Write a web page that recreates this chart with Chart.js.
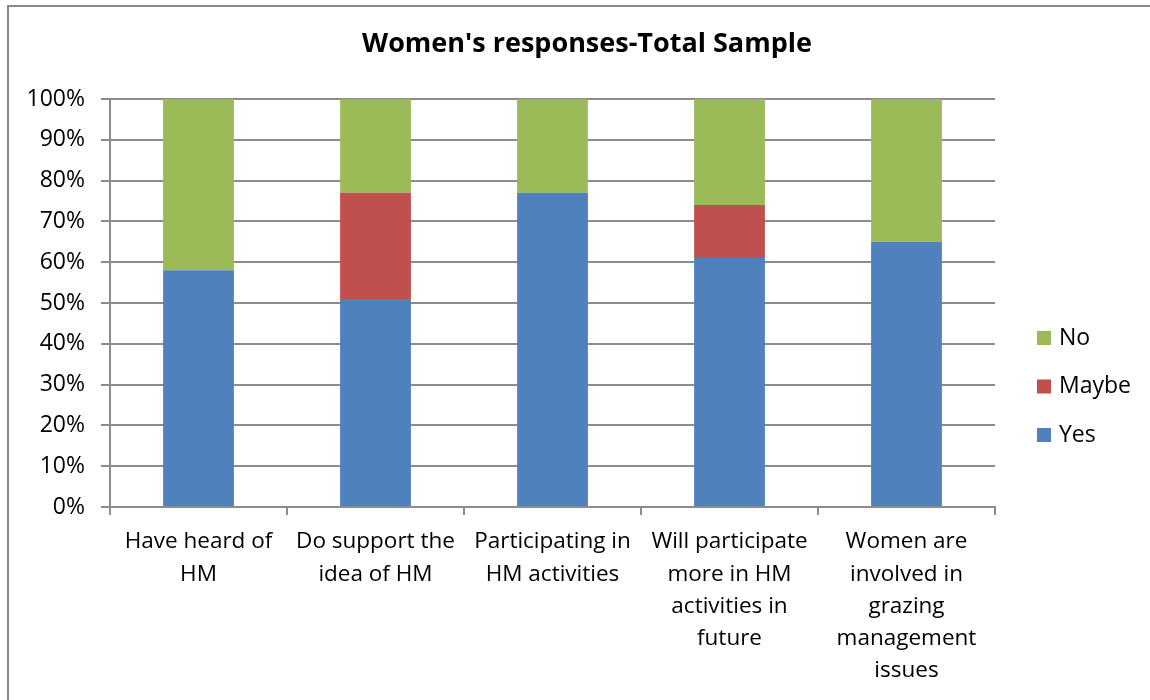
<!DOCTYPE html>
<html>
<head>
<meta charset="utf-8">
<script src="https://cdn.jsdelivr.net/npm/chart.js@4"></script>
<style>
  html, body { margin: 0; padding: 0; background: #fff; }
  #wrap { position: relative; width: 1150px; height: 700px; overflow: hidden; }
  #frame { position: absolute; left: 7px; top: 5px; width: 1300px; height: 900px;
           border-top: 2px solid #8a8a8a; border-left: 2px solid #8a8a8a; }
  canvas { position: absolute; left: 0; top: 0; }
</style>
</head>
<body>
<div id="wrap">
  <div id="frame"></div>
  <canvas id="myChart" width="1150" height="700"></canvas>
</div>
<script>
var categories = [
	["Have heard of", "HM"],
	["Do support the", "idea of HM"],
	["Participating in", "HM activities"],
	["Will participate", "more in HM", "activities in", "future"],
	["Women are", "involved in", "grazing", "management", "issues"]
];
var yesValues = [58, 51, 77, 61, 65];
var maybeValues = [0, 26, 0, 13, 0];
var noValues = [42, 23, 23, 26, 35];
var yTicks = [0, 10, 20, 30, 40, 50, 60, 70, 80, 90, 100];
var chartTitle = "Women's responses-Total Sample";

var fontName = "'Open Sans', Lato, sans-serif";
var gridColor = '#8c8c8c';

// title and legend drawn by hand so they sit where the original ones sit
var extras = {
	id: 'extras',
	afterDraw: function(chart) {
		var ctx = chart.ctx;
		ctx.save();
		ctx.fillStyle = '#000';
		ctx.textAlign = 'center';
		ctx.textBaseline = 'middle';
		ctx.font = 'bold 27px ' + fontName;
		ctx.fillText(chartTitle, 587, 44);

		var sets = chart.data.datasets.slice().reverse();
		ctx.font = '23px ' + fontName;
		ctx.textAlign = 'left';
		for (var i = 0; i < sets.length; i++) {
			var y = 337 + i * 48.5;
			ctx.fillStyle = sets[i].backgroundColor;
			ctx.fillRect(1037, y - 6, 14, 14);
			ctx.fillStyle = '#000';
			ctx.fillText(sets[i].label, 1059, y + 1);
		}
		ctx.restore();
	}
};

var ctx = document.getElementById('myChart').getContext('2d');
var myChart = new Chart(ctx, {
	type: 'bar',
	data: {
		labels: categories,
		datasets: [
			{ label: 'Yes', data: yesValues, backgroundColor: '#4F81BD' },
			{ label: 'Maybe', data: maybeValues, backgroundColor: '#C0504D' },
			{ label: 'No', data: noValues, backgroundColor: '#9BBB59' }
		]
	},
	plugins: [extras],
	options: {
		responsive: false,
		animation: false,
		barPercentage: 0.4,
		categoryPercentage: 1.0,
		layout: { padding: { left: 0, right: 155, top: 99, bottom: 0 } },
		plugins: {
			legend: { display: false },
			tooltip: { enabled: false },
			title: { display: false }
		},
		scales: {
			x: {
				stacked: true,
				offset: true,
				grid: {
					offset: true,
					drawOnChartArea: false,
					drawTicks: true,
					tickLength: 8,
					color: gridColor,
					lineWidth: 2
				},
				border: { display: true, color: gridColor, width: 2 },
				ticks: {
					color: '#000',
					padding: 11,
					maxRotation: 0,
					autoSkip: false,
					font: { family: fontName, size: 22.5, lineHeight: 1.43 }
				},
				afterFit: function(scale) { scale.height = 193; }
			},
			y: {
				stacked: true,
				min: 0,
				max: 100,
				afterBuildTicks: function(scale) {
					scale.ticks = yTicks.map(function(v) { return { value: v }; });
				},
				grid: {
					color: gridColor,
					lineWidth: 2,
					tickLength: 9
				},
				border: { display: true, color: gridColor, width: 2 },
				ticks: {
					color: '#000',
					padding: 16,
					font: { family: fontName, size: 23 },
					callback: function(v) { return v + '%'; }
				},
				afterFit: function(scale) { scale.width = 110; }
			}
		}
	}
});
</script>
</body>
</html>
